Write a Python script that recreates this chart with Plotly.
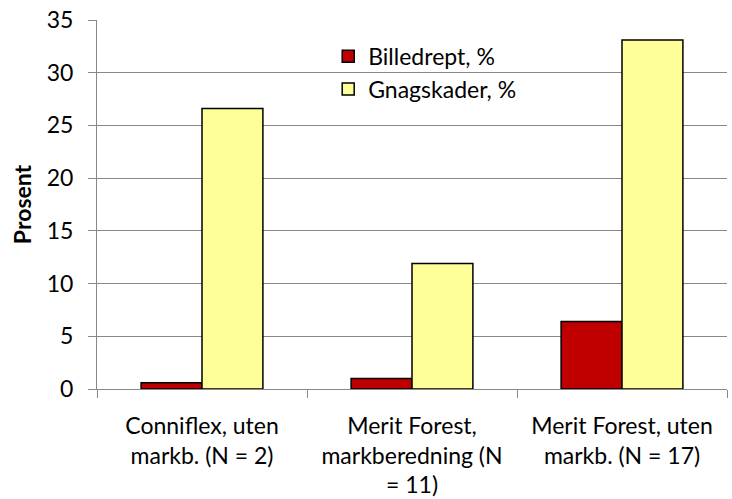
import plotly.graph_objects as go

categories = ["Conniflex, uten<br>markb. (N = 2)",
              "Merit Forest,<br>markberedning (N<br>= 11)",
              "Merit Forest, uten<br>markb. (N = 17)"]
billedrept = [0.6, 1.0, 6.4]
gnagskader = [26.6, 11.9, 33.1]
y_ticks = [0, 5, 10, 15, 20, 25, 30, 35]

font = "Lato, 'Open Sans', sans-serif"
fs = 23

fig = go.Figure()
fig.add_trace(go.Bar(x=categories, y=billedrept, name="Billedrept, %",
                     marker=dict(color="#C00000", line=dict(color="black", width=1.5))))
fig.add_trace(go.Bar(x=categories, y=gnagskader, name="Gnagskader, %",
                     marker=dict(color="#FFFF99", line=dict(color="black", width=1.5))))

fig.update_layout(
    width=732, height=499,
    margin=dict(l=97, r=5, t=20, b=110, autoexpand=False),
    paper_bgcolor="white", plot_bgcolor="white",
    barmode="group", bargap=0.42, bargroupgap=0,
    font=dict(family=font, size=fs, color="black"),
    legend=dict(x=0.367, y=0.96, xanchor="left", yanchor="top",
                bgcolor="rgba(0,0,0,0)", itemwidth=30,
                font=dict(size=fs, family=font)),
    xaxis=dict(showline=True, linecolor="#888888", linewidth=1,
               ticks="outside", tickson="boundaries", ticklen=8,
               tickcolor="#888888", tickfont=dict(size=fs),
               ticklabelstandoff=16),
    yaxis=dict(range=[0, 35], tickvals=y_ticks, showgrid=True,
               gridcolor="#888888", gridwidth=1,
               showline=True, linecolor="#888888", linewidth=1,
               ticks="outside", ticklen=8, tickcolor="#888888",
               tickfont=dict(size=fs), zeroline=False,
               ticklabeloverflow="allow", ticklabelstandoff=10,
               title=dict(text="<b>Prosent</b>", font=dict(size=fs), standoff=8)),
)

fig.write_html("out.html", config={"displayModeBar": False},
               post_script="document.body.style.margin='0';")
